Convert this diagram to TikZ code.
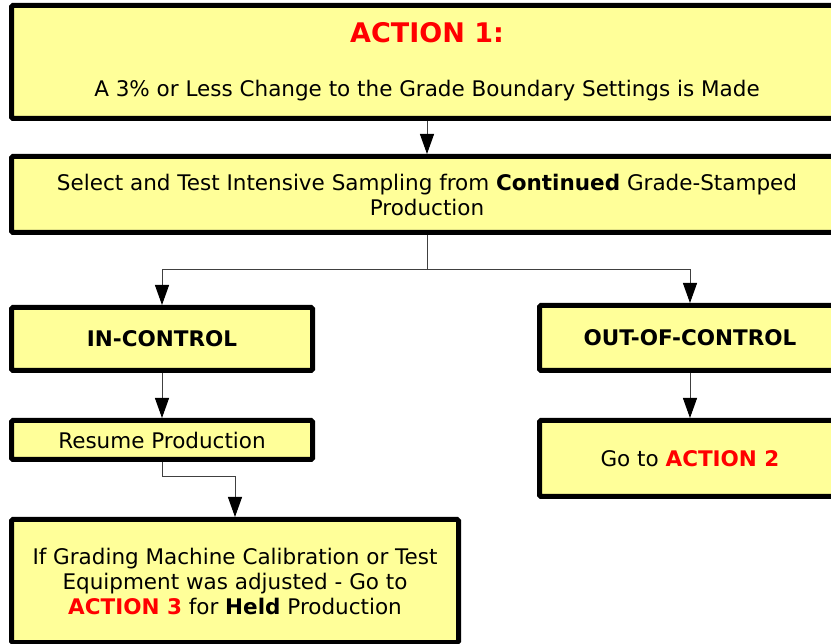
\documentclass[tikz,border=0pt]{standalone}
\usepackage{fontspec}
\setmainfont{DejaVu Sans}
\usetikzlibrary{arrows.meta,calc}
\definecolor{boxfill}{HTML}{FFFF99}
\definecolor{actred}{HTML}{FF0000}
\definecolor{linegrey}{HTML}{404040}
\begin{document}
\begin{tikzpicture}[x=1pt,y=-1pt,
  box/.style={draw=black,fill=boxfill,line width=5pt,rounded corners=1.5pt,align=center,
    inner sep=0pt,font=\fontsize{21.5}{25}\selectfont},
  arr/.style={draw=linegrey,line width=1pt,-{Triangle[length=20pt,width=14pt,fill=black,color=black]}}]
\useasboundingbox (0,0) rectangle (831,644);
\clip (0,0) rectangle (831,644);
\fill[white] (0,0) rectangle (831,644);
\node[box,minimum width=831pt,minimum height=113pt] (B1) at (427,62)
  {{\color{actred}\bfseries\fontsize{27}{30}\selectfont ACTION 1:}\\[29pt]A 3\% or Less Change to the Grade Boundary Settings is Made};
\node[box,minimum width=831pt,minimum height=76pt] (B2) at (427,194.5)
  {Select and Test Intensive Sampling from \textbf{Continued} Grade-Stamped\\Production};
\node[box,minimum width=301pt,minimum height=63pt] (IC) at (162,339) {\textbf{IN-CONTROL}};
\node[box,minimum width=301pt,minimum height=39pt] (RP) at (162,440) {Resume Production};
\node[box,minimum width=447pt,minimum height=123pt] (BB) at (235,581)
  {If Grading Machine Calibration or Test\\Equipment was adjusted - Go to\\{\color{actred}\bfseries ACTION 3} for \textbf{Held} Production};
\node[box,minimum width=301pt,minimum height=65pt] (OC) at (690,338) {\textbf{OUT-OF-CONTROL}};
\node[box,minimum width=301pt,minimum height=76pt] (GA) at (690,458.5) {Go to {\color{actred}\bfseries ACTION 2}};
\coordinate (J) at (427,270);
\coordinate (K) at (162,477);
\draw[arr] (B1.south) -- (B2.north);
\draw[arr] (B2.south) -- (J) -| (IC.north);
\draw[arr] (J) -| (OC.north);
\draw[arr] (IC.south) -- (RP.north);
\draw[arr] (RP.south) -- (K) -| (BB.north);
\draw[arr] (OC.south) -- (GA.north);
\end{tikzpicture}
\end{document}
